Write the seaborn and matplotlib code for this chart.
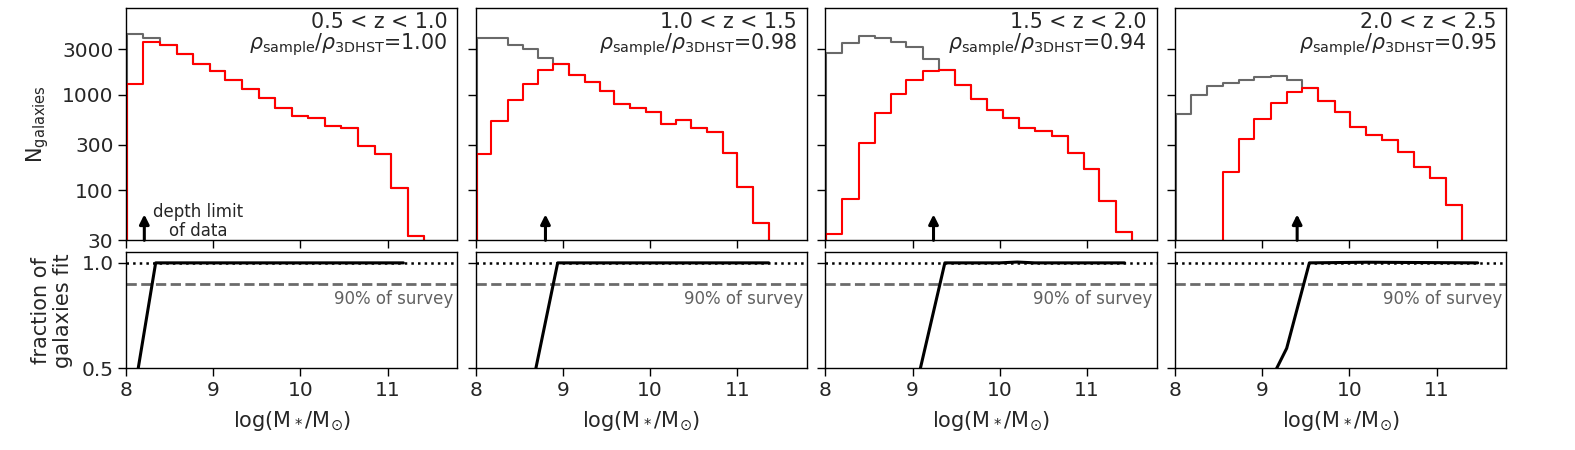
import numpy as np
import pandas as pd
import matplotlib
matplotlib.use("Agg")
import matplotlib.pyplot as plt
from matplotlib.ticker import NullLocator, FixedLocator, FixedFormatter
import seaborn as sns

# ---------------- data ----------------
z_labels = ["0.5 < z < 1.0", "1.0 < z < 1.5", "1.5 < z < 2.0", "2.0 < z < 2.5"]
density_ratio = ["1.00", "0.98", "0.94", "0.95"]

edges_1 = [8.01, 8.20, 8.39, 8.58, 8.77, 8.96, 9.14, 9.33, 9.52, 9.71, 9.90,
           10.09, 10.28, 10.47, 10.66, 10.85, 11.04, 11.23, 11.42]
sample_1 = [1290, 3590, 3320, 2660, 2080, 1780, 1410, 1155, 925, 725, 595, 570,
            475, 450, 290, 237, 107, 33.4]
full_1 = [4290, 3890, 3320, 2660, 2080, 1780, 1410, 1155, 925, 725, 595, 570,
          475, 450, 290, 237, 107, 33.4]

edges_2 = [8.01, 8.18, 8.37, 8.54, 8.72, 8.89, 9.07, 9.25, 9.42, 9.59, 9.77,
           9.95, 10.12, 10.30, 10.47, 10.65, 10.83, 11.00, 11.18, 11.36]
sample_2 = [237, 527, 873, 1290, 1820, 2100, 1615, 1355, 1100, 806, 726, 660,
            499, 541, 450, 405, 247, 109, 46]
full_2 = [3890, 3950, 3320, 2990, 2410, 2100, 1615, 1355, 1100, 806, 726, 660,
          499, 541, 450, 405, 247, 109, 46]

edges_3 = [8.01, 8.19, 8.38, 8.57, 8.75, 8.93, 9.12, 9.30, 9.49, 9.67, 9.85,
           10.04, 10.22, 10.40, 10.60, 10.78, 10.96, 11.14, 11.33, 11.52]
sample_3 = [34.8, 81.8, 314, 644, 1024, 1432, 1778, 1820, 1271, 908, 687, 571,
            450, 415, 368, 247, 169, 77.5, 37]
full_3 = [2716, 3508, 4150, 3890, 3590, 3185, 2371, 1820, 1271, 908, 687, 571,
          450, 415, 368, 247, 169, 77.5, 37]

edges_4 = [8.01, 8.18, 8.37, 8.55, 8.73, 8.91, 9.10, 9.28, 9.46, 9.64, 9.83,
           10.01, 10.19, 10.37, 10.56, 10.74, 10.92, 11.11, 11.29]
sample_4 = [0, 0, 0, 155, 340, 558, 819, 1057, 1173, 852, 660, 457, 383, 334,
            251, 177, 136, 71]
full_4 = [629, 984, 1222, 1323, 1432, 1527, 1563, 1432, 1173, 852, 660, 457,
          383, 334, 251, 177, 136, 71]

depth_limit = [8.21, 8.80, 9.24, 9.40]

frac_x_1 = [8.10, 8.34, 9.0, 10.0, 11.18]
frac_y_1 = [0.40, 1.0, 1.0, 1.0, 1.0]
frac_x_2 = [8.65, 8.94, 9.6, 10.4, 11.36]
frac_y_2 = [0.42, 1.0, 1.0, 1.0, 1.0]
frac_x_3 = [9.05, 9.37, 10.0, 10.2, 10.4, 11.43]
frac_y_3 = [0.43, 1.0, 1.0, 1.004, 1.0, 1.0]
frac_x_4 = [9.10, 9.28, 9.54, 10.2, 11.47]
frac_y_4 = [0.446, 0.595, 1.0, 1.003, 1.0]

edges_all = [edges_1, edges_2, edges_3, edges_4]
sample_all = [sample_1, sample_2, sample_3, sample_4]
full_all = [full_1, full_2, full_3, full_4]
frac_x_all = [frac_x_1, frac_x_2, frac_x_3, frac_x_4]
frac_y_all = [frac_y_1, frac_y_2, frac_y_3, frac_y_4]

yticks_top = [30, 100, 300, 1000, 3000]
yticks_bot = [0.5, 1.0]
xticks = [8, 9, 10, 11]

# ---------------- style ----------------
sns.set_theme(style="ticks")
plt.rcParams["font.family"] = ["DejaVu Sans"]
plt.rcParams["mathtext.fontset"] = "dejavusans"
plt.rcParams["axes.edgecolor"] = "black"
plt.rcParams["axes.linewidth"] = 1.0

TICK_FS = 14.5
LABEL_FS = 15
ANNOT_FS = 14.8

fig = plt.figure(figsize=(15.75, 4.5), dpi=100)
gs = fig.add_gridspec(2, 4, height_ratios=[2, 1], left=0.08, right=0.9565,
                      top=0.9815, bottom=0.1815, hspace=0.069, wspace=0.055)


def draw_hist(ax, edges, counts, color):
    e = np.asarray(edges, dtype=float)
    c = np.asarray(counts, dtype=float)
    # pad a zero-count bin on each side so the outline drops to the baseline
    e_ext = np.concatenate([[e[0] - 0.2], e, [e[-1] + 0.2]])
    c_ext = np.concatenate([[0.0], c, [0.0]])
    df = pd.DataFrame({"mass": 0.5 * (e_ext[:-1] + e_ext[1:]), "n": c_ext})
    sns.histplot(data=df, x="mass", weights="n", bins=e_ext.tolist(),
                 element="step", fill=False, color=color, lw=1.5, ax=ax)


for i in range(4):
    ax = fig.add_subplot(gs[0, i])
    axb = fig.add_subplot(gs[1, i])

    ax.set_yscale("log")
    draw_hist(ax, edges_all[i], full_all[i], "dimgray")
    draw_hist(ax, edges_all[i], sample_all[i], "red")
    ax.set_xlim(8, 11.8)
    ax.set_ylim(30, 8000)
    ax.yaxis.set_major_locator(FixedLocator(yticks_top))
    ax.yaxis.set_minor_locator(NullLocator())
    ax.xaxis.set_major_locator(FixedLocator(xticks))
    ax.xaxis.set_minor_locator(NullLocator())
    if i == 0:
        ax.yaxis.set_major_formatter(FixedFormatter([str(t) for t in yticks_top]))
        ax.set_ylabel(r"N$_{\rm galaxies}$", fontsize=LABEL_FS)
        ax.yaxis.set_label_coords(-0.226, 0.5)
    else:
        ax.set_yticklabels([])
        ax.set_ylabel("")
    ax.set_xticklabels([])
    ax.set_xlabel("")
    ax.tick_params(direction="out", length=5.5, width=1, labelsize=TICK_FS,
                   color="black")

    ax.text(0.969, 0.8236,
            z_labels[i] + "\n" + r"$\rho_{\rm sample}/\rho_{\rm 3DHST}$="
            + density_ratio[i],
            transform=ax.transAxes, ha="right", va="baseline",
            multialignment="right", fontsize=ANNOT_FS, linespacing=0.97)

    ax.annotate("", xy=(depth_limit[i], 56), xytext=(depth_limit[i], 30),
                arrowprops=dict(arrowstyle="-|>", color="black", lw=2.2,
                                mutation_scale=14, shrinkA=0, shrinkB=0))
    if i == 0:
        ax.text(8.83, 47, "depth limit\nof data", ha="center", va="center",
                multialignment="center", fontsize=12, linespacing=1.1)

    # bottom panel
    axb.axhline(1.0, color="black", ls=":", lw=1.8)
    axb.axhline(0.9, color="0.42", ls="--", lw=2.0)
    sns.lineplot(x=frac_x_all[i], y=frac_y_all[i], color="black", lw=2.2,
                 ax=axb)
    axb.set_xlim(8, 11.8)
    axb.set_ylim(0.5, 1.05)
    axb.xaxis.set_major_locator(FixedLocator(xticks))
    axb.yaxis.set_major_locator(FixedLocator(yticks_bot))
    axb.text(11.75, 0.87, "90% of survey", ha="right", va="top",
             fontsize=12, color="0.38")
    axb.set_xticklabels([str(t) for t in xticks])
    axb.set_xlabel(r"log(M$_*$/M$_{\odot}$)", fontsize=LABEL_FS, labelpad=7)
    if i == 0:
        axb.set_yticklabels(["0.5", "1.0"])
        axb.set_ylabel("fraction of\ngalaxies fit", fontsize=LABEL_FS,
                       linespacing=1.15)
        axb.yaxis.set_label_coords(-0.16, 0.5)
    else:
        axb.set_yticklabels([])
        axb.set_ylabel("")
    axb.tick_params(direction="out", length=5.5, width=1, labelsize=TICK_FS,
                    color="black")

fig.savefig("out.png", dpi=100, facecolor="white")
